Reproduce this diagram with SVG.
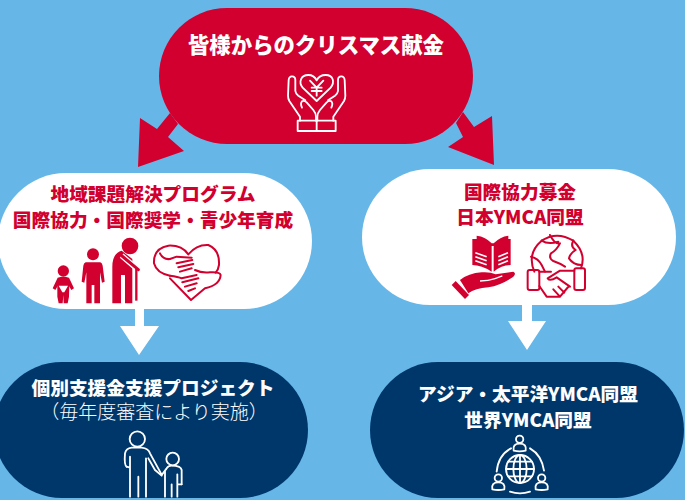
<svg xmlns="http://www.w3.org/2000/svg" xmlns:xlink="http://www.w3.org/1999/xlink" width="685" height="500" viewBox="0 0 685 500">
<style>
text{font-family:"Noto Sans CJK JP","Noto Sans",sans-serif;text-anchor:middle;font-weight:900}
.r{fill:#d2002f}.w{fill:#fff}.n{fill:#00376b}
.red{fill:#d2002f;font-size:18.7px}.wt{fill:#fff;font-size:18.7px}
.sw{fill:none;stroke:#fff;stroke-width:5.5;stroke-linecap:round;stroke-linejoin:round}
.sr{fill:none;stroke:#d2002f;stroke-width:6;stroke-linecap:round;stroke-linejoin:round}
</style>
<defs>
<g id="hand"><path d="M60 167V155L28 108Q24 100 24 92L26 45Q27 34 36 34Q46 34 46 45V78Q47 86 55 92L76 106"/><path d="M66 128Q60 115 66 109Q72 105 80 112L100 135Q108 145 108 155V167"/></g>
<g id="pp"><circle cx="0" cy="0" r="11"/><path d="M-18 34Q-22 13 0 13Q22 13 18 34Q0 38-18 34Z"/></g>
</defs>
<rect width="685" height="500" fill="#66b7e8"/>
<g id="connectors">
<path class="r" d="M170 113L178 124L168 137L184 151L138 167L140 118L157 129Z"/>
<path class="r" d="M463 112L456 123L463 137L448 147L494 165L492 116L474 127Z"/>
<path class="w" d="M135 305H144V326H159L139 355L120 326H135Z"/>
<path class="w" d="M522 300H532V321H546L527 350L508 321H522Z"/>
</g>
<g id="node-donation">
<rect class="r" x="159" y="8" width="314" height="136" rx="68"/>
<text x="316" y="53" fill="#fff" font-size="21.4">皆様からのクリスマス献金</text>
<g class="sw" transform="translate(280 65) scale(.3333)">
<path d="M110 108L68 68C55 52 62 30 85 30C98 30 106 38 110 46C114 38 122 30 137 30C160 30 165 52 152 68Z"/>
<path d="M90 47L110 68L130 47M110 68V92M95 68H125M95 78H125"/>
<rect x="53" y="167" width="114" height="31"/><path d="M110 167V198"/>
<use xlink:href="#hand" href="#hand"/>
<use xlink:href="#hand" href="#hand" transform="translate(220 0) scale(-1 1)"/>
</g>
</g>
<g id="node-regional">
<rect class="w" x="-2" y="173" width="314" height="136" rx="68"/>
<text class="red" x="153" y="201">地域課題解決プログラム</text>
<text class="red" x="153" y="227">国際協力・国際奨学・青少年育成</text>
<g transform="translate(45 235) scale(.3333)">
<circle class="r" cx="55" cy="108" r="17"/>
<path class="r" d="M38 128Q55 122 72 128L87 160L79 165L70 150H40L31 165L23 160Z"/>
<path class="r" d="M37 150H73L72 185L68 205H56L55 180L53 205H41L37 185Z"/>
<path class="w" d="M41 152H69L58 172H52Z"/>
<circle class="r" cx="144" cy="58" r="18"/>
<path class="r" d="M122 82H166Q172 84 173 92L179 140L171 143L165 112V205H148V150H140V205H124V112L118 143L110 140L115 92Q116 84 122 82Z"/>
<circle class="r" cx="255" cy="33" r="25"/>
<path class="r" d="M202 205V95Q202 55 230 47L262 72V205H240V120H228V205Z"/>
<path d="M230 62L278 103" stroke="#fff" stroke-width="17" fill="none"/>
<path d="M231 63L280 104" stroke="#d2002f" stroke-width="9" stroke-linecap="round" fill="none"/>
<path d="M274 102V197" stroke="#d2002f" stroke-width="7" fill="none"/>
<g class="sr">
<path d="M375 122Q335 115 327 85Q325 40 370 32Q410 30 430 58Q455 28 490 30Q525 45 522 90Q520 105 512 113"/>
<path d="M375 130L438 195L480 160Q525 150 527 120Q525 110 495 112Q470 115 450 105"/>
<path d="M345 55Q355 75 375 72L395 65L440 68M395 85L442 75M400 97L445 87M405 110L440 100M375 122Q400 125 410 130L455 120M412 142L460 130M420 155L455 145M430 168L450 160"/>
</g>
</g>
</g>
<g id="node-intl">
<rect class="w" x="362" y="169" width="314" height="136" rx="68"/>
<text class="red" x="520" y="199">国際協力募金</text>
<text class="red" x="520" y="224">日本YMCA同盟</text>
<g transform="translate(445 230) scale(.3333)">
<path class="r" d="M95 17Q122 20 140 40L146 40Q165 20 190 17V27H197V105Q170 105 146 125V48H140V125Q110 105 82 105V27H95Z"/>
<path d="M91 68L125 80M91 80L125 92M91 92L125 104M160 80L189 68M160 92L189 80M160 104L189 92" stroke="#fff" stroke-width="5" fill="none"/>
<path class="r" d="M45 150Q70 130 110 127Q135 125 152 133L205 125Q215 130 205 140Q170 165 130 172Q90 175 70 190Z"/>
<path d="M105 153Q130 153 150 146L172 138" stroke="#fff" stroke-width="4" fill="none"/>
<path class="r" d="M20 165L32 153L72 195L60 207Z"/>
<g class="sr">
<path d="M268 125Q245 70 290 32Q335 2 385 32Q425 70 408 115"/>
<path d="M290 32Q310 45 340 35M315 15Q330 45 345 40Q335 60 318 70Q310 85 325 93Q345 100 360 110M385 32Q375 50 392 60Q375 70 372 85Q385 105 410 105M258 80Q280 85 290 105L300 125"/>
<rect x="248" y="120" width="35" height="60" rx="6"/><rect x="388" y="115" width="32" height="65" rx="6"/>
<path d="M283 125H318M283 168L305 200H325L345 200L372 168M388 122H345L308 145Q315 155 335 142L375 170M345 200L325 178M358 188L340 170"/>
</g>
</g>
</g>
<g id="node-individual">
<rect class="n" x="-6" y="362" width="314" height="136" rx="68"/>
<text class="wt" x="153" y="395">個別支援金支援プロジェクト</text>
<text x="154" y="419" fill="#fff" font-size="19" style="font-weight:300">（毎年度審査により実施）</text>
<g class="sw" transform="translate(120 425) scale(.3333)">
<circle cx="52" cy="42" r="23"/><circle cx="158" cy="102" r="19"/>
<path d="M20 125Q12 120 15 85Q18 70 35 68H65Q85 70 90 85L120 140L125 150L140 130Q145 122 155 122Q183 122 185 135V178"/>
<path d="M30 95V215M78 100V215M55 155V215M20 125L30 128M85 100L105 135L125 152M135 140V215M172 148V215M155 178V215M172 178H185"/>
</g>
</g>
<g id="node-asia">
<rect class="n" x="370" y="362" width="314" height="136" rx="68"/>
<text class="wt" x="528" y="401">アジア・太平洋YMCA同盟</text>
<text class="wt" x="528" y="427">世界YMCA同盟</text>
<g class="sw" transform="translate(485 430) scale(.3333)">
<circle cx="105" cy="117" r="42"/><ellipse cx="105" cy="117" rx="20" ry="42"/>
<path d="M105 75V159M63 117H147M70 95H140M70 139H140"/>
<use xlink:href="#pp" href="#pp" x="104" y="28"/><use xlink:href="#pp" href="#pp" x="40" y="144"/><use xlink:href="#pp" href="#pp" x="170" y="144"/>
<path d="M78 55Q40 75 35 125M135 55Q170 75 177 122M75 185Q105 195 135 185"/>
</g>
</g>
</svg>
